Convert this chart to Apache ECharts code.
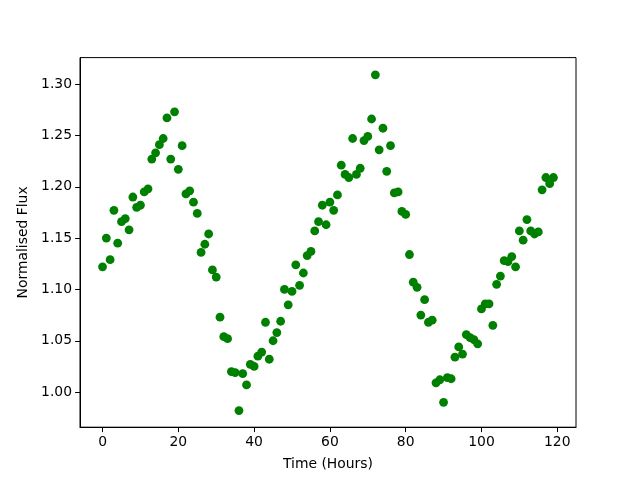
<!DOCTYPE html>
<html>
<head>
<meta charset="utf-8">
<script src="https://cdn.jsdelivr.net/npm/echarts@6/dist/echarts.min.js"></script>
<style>html,body{margin:0;padding:0;background:#fff;}#c{width:640px;height:480px;}</style>
</head>
<body>
<div id="c"></div>
<script>
var hours = [0,1,2,3,4,5,6,7,8,9,10,11,12,13,14,15,16,17,18,19,20,21,22,23,24,25,26,27,28,29,
30,31,32,33,34,35,36,37,38,39,40,41,42,43,44,45,46,47,48,49,50,51,52,53,54,55,56,57,58,59,
60,61,62,63,64,65,66,67,68,69,70,71,72,73,74,75,76,77,78,79,80,81,82,83,84,85,86,87,88,89,
90,91,92,93,94,95,96,97,98,99,100,101,102,103,104,105,106,107,108,109,110,111,112,113,114,115,116,117,118,119];
var flux = [1.122,1.150,1.129,1.177,1.145,1.166,1.169,1.158,1.190,1.180,
1.182,1.195,1.198,1.227,1.233,1.241,1.247,1.267,1.227,1.273,
1.217,1.240,1.193,1.196,1.185,1.174,1.136,1.144,1.154,1.119,
1.112,1.073,1.054,1.052,1.020,1.019,0.982,1.018,1.007,1.027,
1.025,1.035,1.039,1.068,1.032,1.050,1.058,1.069,1.100,1.085,
1.098,1.124,1.104,1.116,1.133,1.137,1.157,1.166,1.182,1.163,
1.185,1.177,1.192,1.221,1.212,1.209,1.247,1.212,1.218,1.245,
1.249,1.266,1.309,1.236,1.257,1.215,1.240,1.194,1.195,1.176,
1.173,1.134,1.107,1.102,1.075,1.090,1.068,1.070,1.009,1.012,
0.990,1.014,1.013,1.034,1.044,1.037,1.056,1.053,1.051,1.047,
1.081,1.086,1.086,1.065,1.105,1.113,1.128,1.127,1.132,1.122,
1.157,1.148,1.168,1.157,1.154,1.156,1.197,1.209,1.203,1.209];
var xTickValues = [0, 20, 40, 60, 80, 100, 120];
var yTickValues = [1.00, 1.05, 1.10, 1.15, 1.20, 1.25, 1.30];

// axis limits as in the reference (data range with 5% margins)
var xRange = [-5.95, 124.95];
var yRange = [0.9658, 1.3258];

var points = hours.map(function (h, i) { return [h, flux[i]]; });
var font = 'DejaVu Sans';
var chart = echarts.init(document.getElementById('c'), null, {renderer: 'canvas'});
chart.setOption({
  animation: false,
  backgroundColor: '#fff',
  grid: {left: 80, top: 57.6, width: 496, height: 369.6, show: true,
    borderColor: '#000', borderWidth: 1, backgroundColor: 'transparent'},
  xAxis: {
    type: 'value', min: xRange[0], max: xRange[1],
    name: 'Time (Hours)', nameLocation: 'middle', nameGap: 30,
    nameTextStyle: {fontFamily: font, fontSize: 13.9, color: '#000'},
    axisLine: {show: true, onZero: false, lineStyle: {color: '#000', width: 1}},
    axisTick: {show: true, length: 4.9, customValues: xTickValues, lineStyle: {color: '#000', width: 1}},
    axisLabel: {fontFamily: font, fontSize: 13.9, color: '#000', margin: 8, customValues: xTickValues},
    splitLine: {show: false}
  },
  yAxis: {
    type: 'value', min: yRange[0], max: yRange[1],
    name: 'Normalised Flux', nameLocation: 'middle', nameGap: 41,
    nameTextStyle: {fontFamily: font, fontSize: 13.9, color: '#000'},
    axisLine: {show: true, onZero: false, lineStyle: {color: '#000', width: 1}},
    axisTick: {show: true, length: 4.9, customValues: yTickValues, lineStyle: {color: '#000', width: 1}},
    axisLabel: {fontFamily: font, fontSize: 13.9, color: '#000', margin: 8, customValues: yTickValues,
      formatter: function (v) { return v.toFixed(2); }},
    splitLine: {show: false}
  },
  series: [{
    type: 'scatter', data: points,
    symbol: 'circle', symbolSize: 8.8,
    itemStyle: {color: '#008000', opacity: 1}
  }]
});
</script>
</body>
</html>
